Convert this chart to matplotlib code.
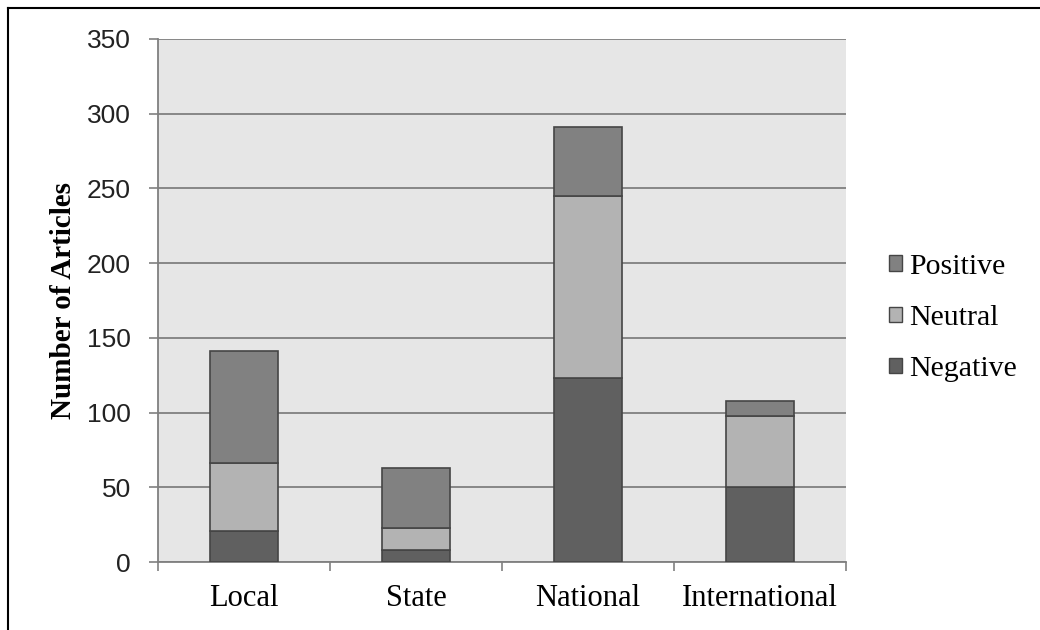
import matplotlib
matplotlib.use("Agg")
import matplotlib.pyplot as plt
from matplotlib.patches import Patch
from matplotlib.lines import Line2D
import numpy as np

categories = ["Local", "State", "National", "International"]
negative = [21, 8, 123, 50]
neutral = [45, 15, 122, 48]
positive = [75, 40, 46, 10]
y_ticks = [0, 50, 100, 150, 200, 250, 300, 350]

col_neg = "#606060"
col_neu = "#b3b3b3"
col_pos = "#818181"
edge = "#454545"

W, H = 1040, 630
fig = plt.figure(figsize=(W / 100, H / 100), dpi=100)
ax = fig.add_axes([158 / W, 1 - 562 / H, (846 - 158) / W, (562 - 39) / H])
ax.set_facecolor("#e6e6e6")

x = np.arange(len(categories))
w = 0.4
neg = np.array(negative)
neu = np.array(neutral)
pos = np.array(positive)
ax.bar(x, neg, w, color=col_neg, edgecolor=edge, linewidth=1.2, zorder=3)
ax.bar(x, neu, w, bottom=neg, color=col_neu, edgecolor=edge, linewidth=1.2, zorder=3)
ax.bar(x, pos, w, bottom=neg + neu, color=col_pos, edgecolor=edge, linewidth=1.2, zorder=3)

ax.set_xlim(-0.5, len(categories) - 0.5)
ax.set_ylim(0, 350)
ax.set_yticks(y_ticks)
ax.yaxis.grid(True, color="#808080", linewidth=1.3, zorder=1)
ax.set_axisbelow(True)

# category boundaries carry the tick marks, names sit in between
ax.set_xticks(np.arange(len(categories) + 1) - 0.5)
ax.set_xticklabels([])
ax.set_xticks(x, minor=True)
ax.set_xticklabels(categories, minor=True, fontfamily="Liberation Serif", fontsize=22)
ax.tick_params(axis="x", which="major", length=6.5, color="#808080", width=1.2, direction="out")
ax.tick_params(axis="x", which="minor", length=0, pad=16)
ax.tick_params(axis="y", length=6.5, color="#808080", width=1.2, direction="out", pad=13)
for lab in ax.get_yticklabels():
    lab.set_fontfamily("Liberation Sans")
    lab.set_fontsize(19)
    lab.set_color("#222222")

for s in ["top", "right"]:
    ax.spines[s].set_visible(False)
for s in ["left", "bottom"]:
    ax.spines[s].set_color("#808080")
    ax.spines[s].set_linewidth(1.3)

ax.set_ylabel("Number of Articles", fontfamily="Liberation Serif", fontweight="bold",
              fontsize=21)
ax.yaxis.set_label_coords((77 - 158) / (846 - 158), 0.5)

handles = [Patch(facecolor=col_pos, edgecolor=edge, label="Positive"),
           Patch(facecolor=col_neu, edgecolor=edge, label="Neutral"),
           Patch(facecolor=col_neg, edgecolor=edge, label="Negative")]
fig.legend(handles=handles, loc="center left", bbox_to_anchor=(889 / W, 1 - 318 / H),
           frameon=False, prop={"family": "Liberation Serif", "size": 21.5},
           handlelength=0.42, handleheight=0.42, handletextpad=0.25, labelspacing=0.85,
           borderpad=0, borderaxespad=0)

# outer frame along the top and left edges
fig.add_artist(Line2D([7.5 / W, 7.5 / W], [0, 1 - 7.5 / H], color="black", linewidth=1.5,
                      transform=fig.transFigure))
fig.add_artist(Line2D([7.5 / W, 1], [1 - 7.5 / H, 1 - 7.5 / H], color="black", linewidth=1.5,
                      transform=fig.transFigure))

fig.savefig("out.png", dpi=100, facecolor="white")
